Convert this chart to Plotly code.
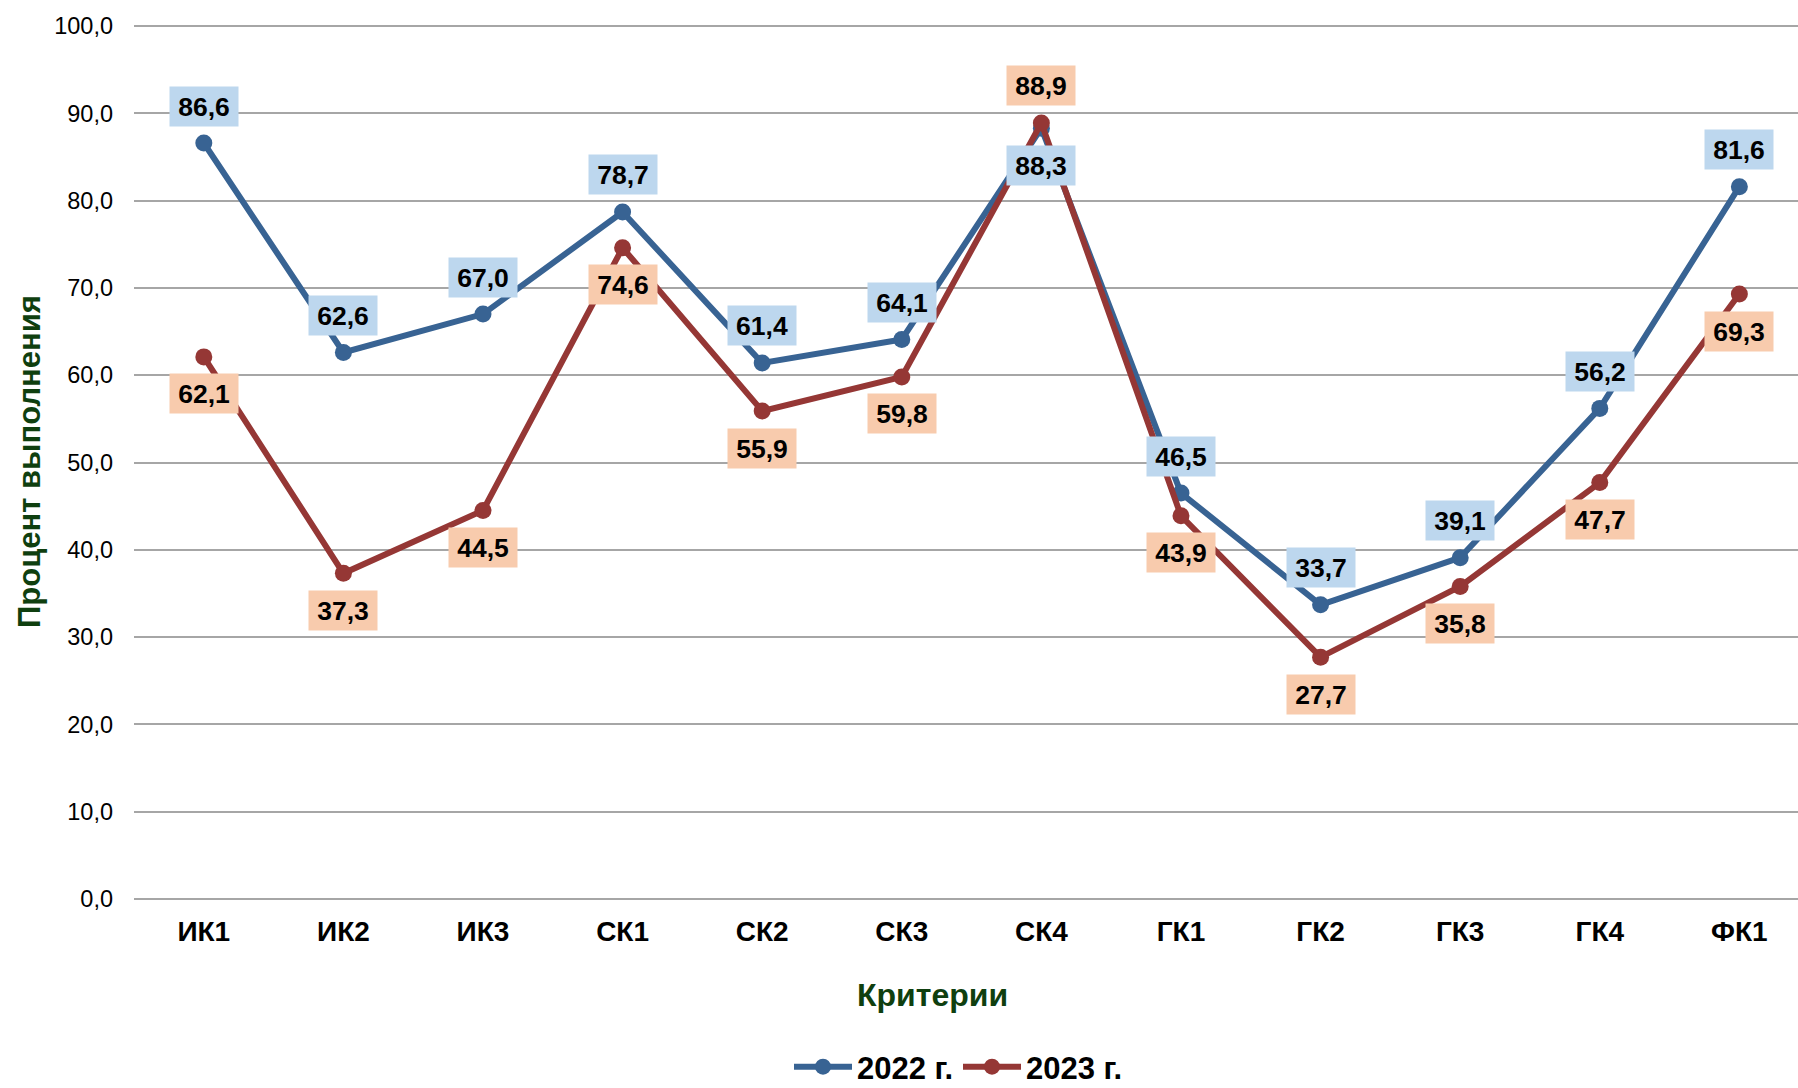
import plotly.graph_objects as go

categories = ["ИК1", "ИК2", "ИК3", "СК1", "СК2", "СК3", "СК4", "ГК1", "ГК2", "ГК3", "ГК4", "ФК1"]
values_2022 = [86.6, 62.6, 67.0, 78.7, 61.4, 64.1, 88.3, 46.5, 33.7, 39.1, 56.2, 81.6]
values_2023 = [62.1, 37.3, 44.5, 74.6, 55.9, 59.8, 88.9, 43.9, 27.7, 35.8, 47.7, 69.3]
series_names = ["2022 г.", "2023 г."]
y_ticks = [0, 10, 20, 30, 40, 50, 60, 70, 80, 90, 100]

FONT = "Liberation Sans, Arial, sans-serif"
BLUE = "#386393"
RED = "#953735"
BLUE_BG = "#BDD7EE"
RED_BG = "#F8CBAD"
TITLE_GREEN = "#0F3F0F"

W, H = 1798, 1088
L, R, T, B = 134, 0, 25, 188

fig = go.Figure()
for name, vals, col in [(series_names[0], values_2022, BLUE), (series_names[1], values_2023, RED)]:
    fig.add_trace(go.Scatter(
        x=list(range(len(categories))), y=vals, name=name, mode="lines+markers",
        line=dict(color=col, width=6),
        marker=dict(color=col, size=17),
    ))

def fmt(v):
    return f"{v:.1f}".replace(".", ",")

annotations = []
for i in range(len(categories)):
    a, b = values_2022[i], values_2023[i]
    for v, other, bg in [(a, b, BLUE_BG), (b, a, RED_BG)]:
        above = v >= other
        annotations.append(dict(
            x=i, y=v, xref="x", yref="y", text=fmt(v), showarrow=False,
            font=dict(family=FONT, size=26.5, color="black", weight="bold"),
            bgcolor=bg, width=64, height=35, borderpad=2,
            yshift=37 if above else -37,
        ))

plot_w = W - L - R
plot_h = H - T - B
# axis titles
annotations.append(dict(
    text="Критерии", xref="paper", yref="paper",
    x=(932 - L) / plot_w, y=(H - B - 995) / plot_h,
    xanchor="center", yanchor="middle", showarrow=False,
    font=dict(family=FONT, size=32, color=TITLE_GREEN, weight="bold"),
))
annotations.append(dict(
    text="Процент выполнения", xref="paper", yref="paper",
    x=(29 - L) / plot_w, y=(H - B - 462) / plot_h, textangle=-90,
    xanchor="center", yanchor="middle", showarrow=False,
    font=dict(family=FONT, size=31, color=TITLE_GREEN, weight="bold"),
))

fig.update_layout(
    width=W, height=H,
    margin=dict(l=L, r=R, t=T, b=B, autoexpand=False),
    paper_bgcolor="white", plot_bgcolor="white",
    separators=", ",
    font=dict(family=FONT, color="black"),
    showlegend=True,
    legend=dict(
        orientation="h", x=(958 - L) / plot_w, y=(H - B - 1067) / plot_h,
        xanchor="center", yanchor="middle",
        font=dict(family=FONT, size=31, color="black", weight="bold"),
        itemwidth=58, traceorder="normal", bgcolor="rgba(0,0,0,0)",
    ),
    annotations=annotations,
)
fig.update_xaxes(
    range=[-0.5, 11.42], tickmode="array",
    tickvals=list(range(len(categories))), ticktext=categories,
    showgrid=False, zeroline=False, showline=False, ticks="",
    tickfont=dict(family=FONT, size=28, color="black", weight="bold"),
    ticklabelstandoff=12,
)
fig.update_yaxes(
    range=[-0.12, 100.12], tickmode="array", tickvals=y_ticks, tickformat=".1f",
    showgrid=True, gridcolor="#A6A6A6", gridwidth=2,
    zeroline=False, showline=False, ticks="",
    tickfont=dict(family=FONT, size=23.5, color="black"),
    ticklabelstandoff=20,
)

fig.write_html(
    "out.html",
    config={"displayModeBar": False},
    post_script="document.body.style.margin='0';document.body.style.overflow='hidden';",
)
